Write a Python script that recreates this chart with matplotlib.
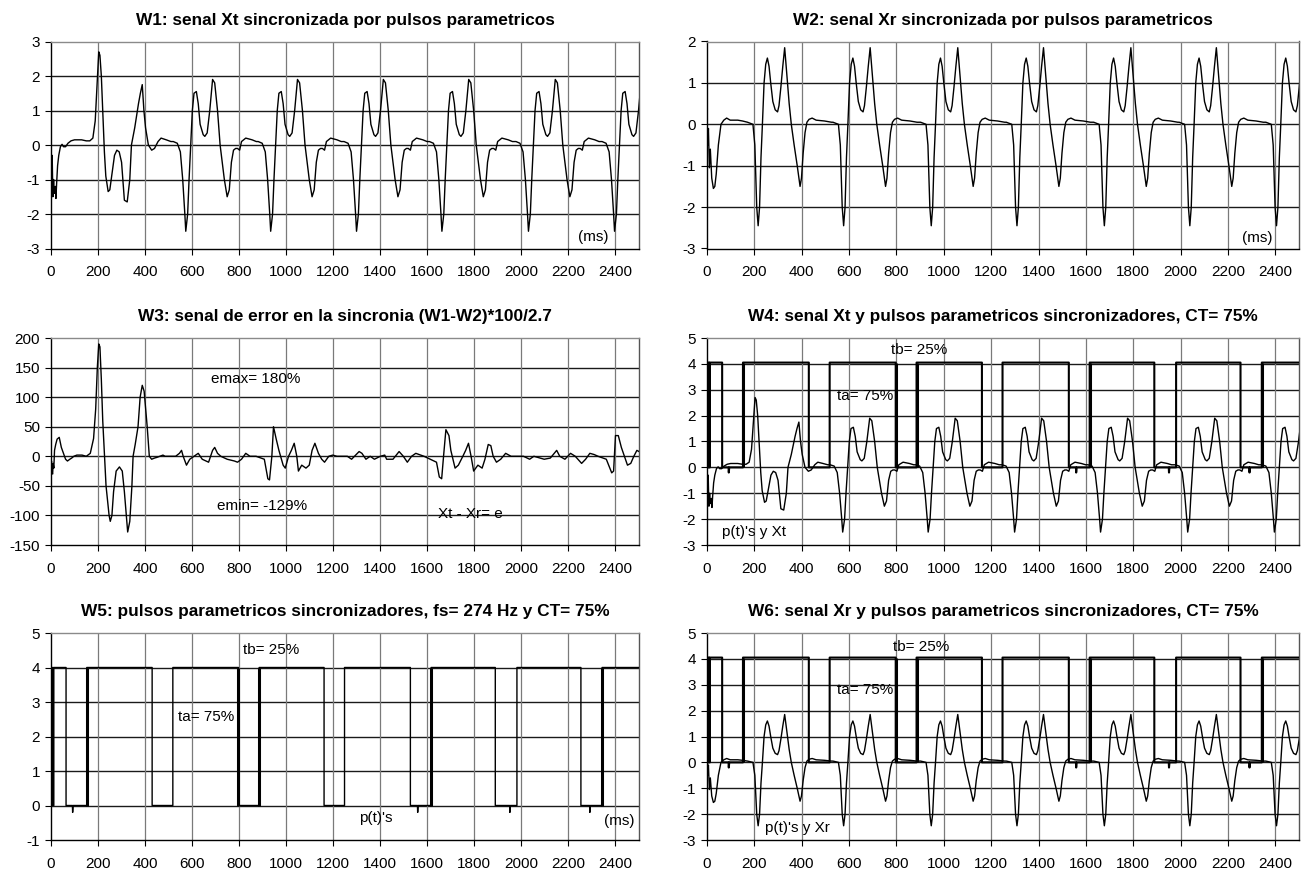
import numpy as np
import matplotlib
matplotlib.use("Agg")
import matplotlib.pyplot as plt

plt.rcParams['font.family'] = ['Liberation Sans', 'DejaVu Sans']
plt.rcParams['axes.unicode_minus'] = False

# ---------------------------------------------------------------- data (ms)
t_end = 2500
x_ticks = list(range(0, 2401, 200))

# Xr : received signal -- lead-in, then repeated complexes at the listed times
xr_lead_t = [0, 3, 6, 10, 14, 20, 27, 33, 39, 48, 59, 71, 83, 98, 130, 150, 165]
xr_lead_v = [0, -0.5, -0.1, -1.05, -0.6, -1.3, -1.55, -1.5, -1.2, -0.5, 0.0,
             0.1, 0.15, 0.1, 0.1, 0.08, 0.06]
xr_beat_times = [216, 577, 947, 1309, 1678, 2039, 2405]
xr_beat_dt = [-45, -22, -14, -6, 0, 6, 12, 18, 25, 32, 39, 46, 53, 62, 72, 82,
              88, 96, 104, 112, 117, 124, 131, 140, 152, 165, 177, 183, 190,
              198, 206, 215, 228, 245, 280, 310]
xr_beat_v = [0.05, 0.0, -0.5, -2.0, -2.45, -2.0, -0.8, 0.0, 1.0, 1.45, 1.6, 1.4,
             1.0, 0.55, 0.35, 0.3, 0.45, 0.9, 1.4, 1.85, 1.5, 1.0, 0.5, 0.0,
             -0.5, -1.0, -1.5, -1.3, -0.7, -0.2, 0.05, 0.12, 0.15, 0.1, 0.08, 0.05]

# Xt : transmitted signal -- irregular first 510 ms, then repeated complexes
xt_lead_t = [0, 3, 5, 8, 11, 14, 18, 21, 24, 28, 33, 40, 47, 53, 62, 72, 85,
             100, 130, 150, 165, 178, 188, 196, 203, 208, 214, 220, 227, 233,
             243, 250, 258, 270, 280, 290, 300, 312, 324, 335, 342, 356, 372,
             380, 388, 395, 402, 414, 428, 440, 455, 468, 490, 510]
xt_lead_v = [0, -1.2, -0.3, -1.5, -1.0, -1.4, -1.2, -1.55, -1.1, -0.6, -0.3,
             -0.05, 0.02, -0.05, -0.05, 0.05, 0.12, 0.15, 0.15, 0.12, 0.12, 0.2,
             0.7, 1.8, 2.7, 2.6, 2.0, 1.0, -0.2, -0.9, -1.35, -1.3, -0.9, -0.3,
             -0.15, -0.2, -0.5, -1.6, -1.65, -1.0, 0.0, 0.5, 1.2, 1.5, 1.75, 1.0,
             0.5, 0.0, -0.15, -0.1, 0.1, 0.2, 0.15, 0.1]
xt_beat_times = [573, 934, 1299, 1662, 2030, 2396]
xt_beat_dt = [-53, -36, -23, -13, -4, 0, 8, 14, 21, 28, 35, 45, 53, 61, 74, 81,
              91, 102, 114, 123, 135, 146, 164, 176, 185, 194, 203, 212, 220,
              229, 237, 255, 282, 300]
xt_beat_v = [0.1, 0.05, -0.2, -1.0, -2.0, -2.5, -2.0, -1.0, 0.0, 1.0, 1.5, 1.55,
             1.2, 0.6, 0.3, 0.25, 0.35, 1.0, 1.9, 1.8, 1.0, 0.0, -1.0, -1.5,
             -1.3, -0.5, -0.15, -0.1, -0.1, -0.15, 0.1, 0.2, 0.15, 0.1]

# synchronisation error e = (Xt - Xr)*100/2.7  [%]
err_t = [0, 2, 4, 7, 9, 12, 15, 20, 26, 35, 44, 53, 62, 70, 80, 88, 97, 110,
         132, 150, 167, 181, 190, 197, 203, 208, 214, 220, 225, 234, 247, 252,
         259, 266, 277, 291, 303, 312, 326, 335, 344, 349, 358, 370, 379, 388,
         396, 409, 418, 428, 440, 449, 476, 485, 530, 546, 555, 562, 576, 590,
         608, 626, 643, 670, 687, 696, 708, 722, 749, 780, 793, 810, 828, 846,
         872, 907, 922, 929, 939, 946, 957, 969, 987, 996, 1010, 1022, 1034,
         1045, 1052, 1066, 1084, 1098, 1110, 1122, 1137, 1151, 1163, 1181, 1198,
         1216, 1260, 1278, 1295, 1310, 1322, 1339, 1357, 1375, 1400, 1419, 1427,
         1454, 1480, 1498, 1515, 1533, 1551, 1586, 1612, 1639, 1651, 1661, 1669,
         1679, 1692, 1700, 1718, 1732, 1751, 1763, 1775, 1786, 1797, 1815, 1833,
         1845, 1859, 1870, 1880, 1894, 1912, 1933, 1956, 2009, 2035, 2053, 2097,
         2123, 2150, 2163, 2185, 2209, 2229, 2256, 2273, 2291, 2309, 2326, 2361,
         2384, 2392, 2400, 2412, 2425, 2438, 2451, 2465, 2478, 2491, 2500]
err_v = [-25, -8, -28, -30, -12, -20, 10, 20, 29, 32, 15, 5, -5, -8, -5, -3, 0,
         2, 2, 0, 5, 30, 80, 150, 190, 185, 130, 60, 20, -50, -100, -110, -100,
         -60, -25, -18, -25, -60, -128, -110, -50, 0, 20, 50, 100, 120, 110, 50,
         0, -5, -3, -2, 2, 0, 0, 5, 10, 0, -15, -5, 0, 5, -5, -10, 10, 15, 5, 0,
         -5, -8, -10, -5, 5, 0, 0, -5, -38, -40, 0, 50, 30, 10, -15, -20, 0, 10,
         22, 0, -25, -15, -20, -15, 10, 22, 5, -5, -10, 0, 2, 0, 0, -5, 2, 8, 5,
         -5, 0, -5, 0, 2, -5, -5, 8, 0, -10, 0, 5, 0, -5, -10, -35, -38, 0, 45,
         35, 10, -20, -15, 0, 10, 22, 0, -25, -15, -20, -5, 20, 18, 0, -10, -5,
         5, 0, 0, -5, 0, -5, -3, 10, 0, -5, 5, 0, -12, -5, 5, 3, 0, -5, -28, -25,
         35, 35, 15, 0, -15, -12, 0, 10, 8]

# synchronising parametric pulses p(t): edges, and short negative glitches
pulse_rise_t = [0, 6, 12, 152, 518, 885, 1248, 1616, 1981, 2343]
pulse_fall_t = [3, 9, 64, 430, 797, 1161, 1528, 1889, 2253]
pulse_glitch_t = [92, 1559, 1951, 2291]
pulse_glitch_v = -0.2
pulse_heavy_edges = [152, 797, 885, 1616, 2343]


def build_signal(lead_t, lead_v, beats, dt, v):
    t, y = list(lead_t), list(lead_v)
    for b in beats:
        t += [b + d for d in dt]
        y += list(v)
    return np.array(t, float), np.array(y, float)


def build_pulse(level):
    ev = [(t, 'r') for t in pulse_rise_t] + [(t, 'f') for t in pulse_fall_t] \
        + [(t, 'g') for t in pulse_glitch_t]
    ev.sort()
    t, y = [], []
    for tt, kind in ev:
        if kind == 'r':
            t += [tt, tt]; y += [0, level]
        elif kind == 'f':
            t += [tt, tt]; y += [level, 0]
        else:
            t += [tt - 1, tt, tt + 2]; y += [0, pulse_glitch_v, 0]
    t.append(t_end); y.append(y[-1])
    return np.array(t, float), np.array(y, float)


xr_t, xr_v = build_signal(xr_lead_t, xr_lead_v, xr_beat_times, xr_beat_dt, xr_beat_v)
xt_t, xt_v = build_signal(xt_lead_t, xt_lead_v, xt_beat_times, xt_beat_dt, xt_beat_v)

# ---------------------------------------------------------------- figure
W, H = 1304, 871
fig = plt.figure(figsize=(W / 100, H / 100), dpi=100)


def make_ax(l, t, r, b, ylim, yticks, title):
    ax = fig.add_axes([l / W, 1 - b / H, (r - l) / W, (b - t) / H])
    ax.set_xlim(0, t_end)
    ax.set_ylim(*ylim)
    ax.set_xticks(x_ticks)
    ax.set_yticks(yticks)
    ax.tick_params(direction='out', length=4, width=0.8, labelsize=11,
                   colors='black')
    ax.tick_params(axis='x', pad=8)
    ax.tick_params(axis='y', pad=4)
    for yv in yticks:
        if ylim[0] < yv < ylim[1]:
            ax.axhline(yv, color='#1a1a1a', lw=1.0, zorder=1)
    for xv in x_ticks[1:]:
        ax.axvline(xv, color='#7a7a7a', lw=0.9, zorder=1)
    ax.spines['left'].set_color('black')
    ax.spines['bottom'].set_color('black')
    ax.spines['top'].set_color('#8a8a8a')
    ax.spines['right'].set_color('#555555')
    for s in ax.spines.values():
        s.set_linewidth(1.0)
    ax.set_title(title, fontsize=12.4, fontweight='bold', pad=12)
    return ax


LW = 1.0
txt = dict(fontsize=11, ha='center', va='center', zorder=5)

# W1
ax1 = make_ax(51, 41.5, 639, 248.5, (-3, 3), list(range(-3, 4)),
              'W1: senal Xt sincronizada por pulsos parametricos')
ax1.plot(xt_t, xt_v, color='black', lw=LW, zorder=3)
ax1.text(2304, -2.68, '(ms)', **txt)

# W2
ax2 = make_ax(707, 41.5, 1299, 248.5, (-3, 2), list(range(-3, 3)),
              'W2: senal Xr sincronizada por pulsos parametricos')
ax2.plot(xr_t, xr_v, color='black', lw=LW, zorder=3)
ax2.text(2325, -2.74, '(ms)', **txt)

# W3
ax3 = make_ax(51, 338, 639, 545, (-150, 200), list(range(-150, 201, 50)),
              'W3: senal de error en la sincronia (W1-W2)*100/2.7')
ax3.plot(err_t, err_v, color='black', lw=LW, zorder=3)
ax3.text(872, 131, 'emax= 180%', **txt)
ax3.text(899, -84, 'emin= -129%', **txt)
ax3.text(1785, -97, 'Xt - Xr= e', **txt)

# W4
ax4 = make_ax(707, 338, 1299, 545, (-3, 5), list(range(-3, 6)),
              'W4: senal Xt y pulsos parametricos sincronizadores, CT= 75%')
p_t, p_v = build_pulse(4.05)
ax4.plot(xt_t, xt_v, color='black', lw=LW, zorder=3)
ax4.plot(p_t, p_v, color='black', lw=1.5, zorder=4)
ax4.vlines(pulse_heavy_edges, 0, 4.05, color='black', lw=2.2, zorder=4)
ax4.text(896, 4.52, 'tb= 25%', **txt)
ax4.text(666, 2.75, 'ta= 75%', **txt)
ax4.text(200, -2.49, "p(t)'s y Xt", **txt)

# W5
ax5 = make_ax(51, 633, 639, 840, (-1, 5), list(range(-1, 6)),
              'W5: pulsos parametricos sincronizadores, fs= 274 Hz y CT= 75%')
q_t, q_v = build_pulse(4.0)
ax5.plot(q_t, q_v, color='black', lw=1.0, zorder=4)
ax5.vlines(pulse_heavy_edges, 0, 4.0, color='black', lw=2.2, zorder=4)
ax5.text(934, 4.5, 'tb= 25%', **txt)
ax5.text(661, 2.57, 'ta= 75%', **txt)
ax5.text(1383, -0.36, "p(t)'s", **txt)
ax5.text(2414, -0.46, '(ms)', **txt)

# W6
ax6 = make_ax(707, 633, 1299, 840, (-3, 5), list(range(-3, 6)),
              'W6: senal Xr y pulsos parametricos sincronizadores, CT= 75%')
ax6.plot(xr_t, xr_v, color='black', lw=LW, zorder=3)
ax6.plot(p_t, p_v, color='black', lw=1.5, zorder=4)
ax6.vlines(pulse_heavy_edges, 0, 4.05, color='black', lw=2.2, zorder=4)
ax6.text(905, 4.47, 'tb= 25%', **txt)
ax6.text(666, 2.81, 'ta= 75%', **txt)
ax6.text(382, -2.52, "p(t)'s y Xr", **txt)

fig.savefig('out.png', dpi=100, facecolor='white')
